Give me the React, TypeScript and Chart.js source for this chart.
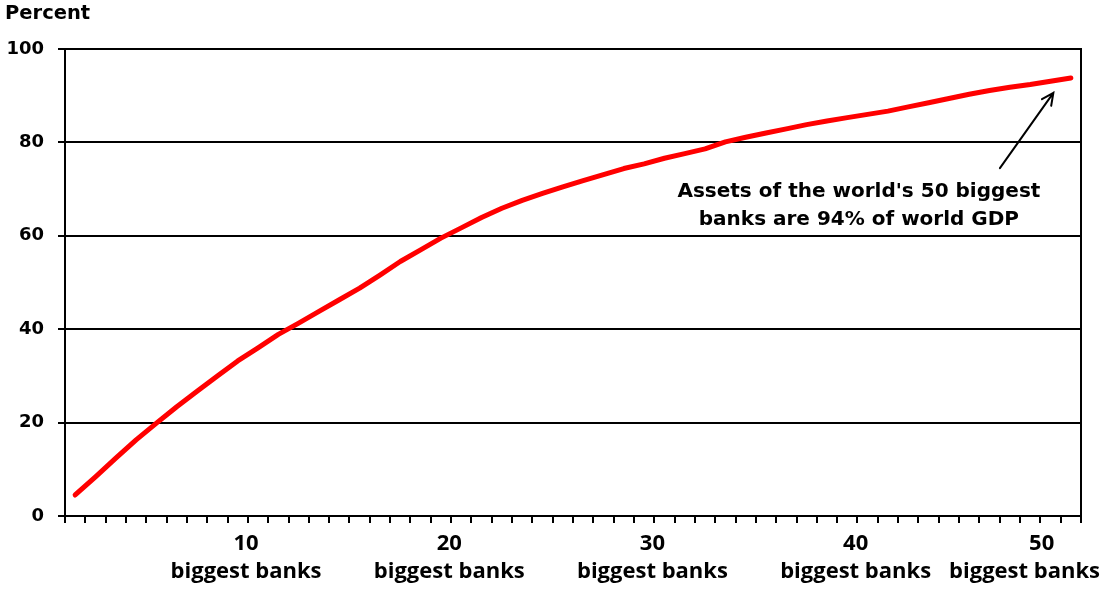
import React, { useEffect, useRef } from 'react';
import { Chart, registerables } from 'chart.js';

Chart.register(...registerables);

// Categories: number of biggest banks counted (1..50)
const banks = [
  '1', '2', '3', '4', '5', '6', '7', '8', '9', '10',
  '11', '12', '13', '14', '15', '16', '17', '18', '19', '20',
  '21', '22', '23', '24', '25', '26', '27', '28', '29', '30',
  '31', '32', '33', '34', '35', '36', '37', '38', '39', '40',
  '41', '42', '43', '44', '45', '46', '47', '48', '49', '50',
];

// Cumulative assets of the N biggest banks, percent of world GDP
const assetsPctGdp = [
  4.5, 8.4, 12.4, 16.3, 19.9, 23.4, 26.7, 30.0, 33.2, 36.0,
  38.9, 41.3, 43.8, 46.3, 48.8, 51.6, 54.5, 57.0, 59.5, 61.7,
  63.9, 65.9, 67.6, 69.1, 70.5, 71.8, 73.1, 74.4, 75.4, 76.6,
  77.6, 78.6, 80.1, 81.1, 82.0, 82.9, 83.8, 84.6, 85.3, 86.0,
  86.7, 87.6, 88.5, 89.4, 90.3, 91.1, 91.8, 92.4, 93.1, 93.8,
];

const xTickNumbers = ['10', '20', '30', '40', '50'];
const xTickCaption = 'biggest banks';
const yTicks = [0, 20, 40, 60, 80, 100];
const yTitle = 'Percent';
const noteLines = ["Assets of the world's 50 biggest", 'banks are 94% of world GDP'];

const notePlugin = {
  id: 'note',
  afterDatasetsDraw(chart: any) {
    const { ctx, scales } = chart;
    const x = scales.x;
    const y = scales.y;
    ctx.save();
    ctx.fillStyle = '#000';
    ctx.font = 'bold 20px "DejaVu Sans"';
    ctx.textAlign = 'center';
    ctx.textBaseline = 'middle';
    const tx = x.getPixelForValue(38.57);
    ctx.fillText(noteLines[0], tx, y.getPixelForValue(69.4));
    ctx.fillText(noteLines[1], tx, y.getPixelForValue(63.4));

    const x0 = x.getPixelForValue(45.51);
    const y0 = y.getPixelForValue(74.5);
    const x1 = x.getPixelForValue(48.14);
    const y1 = y.getPixelForValue(90.6);
    ctx.strokeStyle = '#000';
    ctx.lineWidth = 2;
    ctx.lineCap = 'round';
    ctx.beginPath();
    ctx.moveTo(x0, y0);
    ctx.lineTo(x1, y1);
    const ang = Math.atan2(y1 - y0, x1 - x0);
    const head = 13;
    ctx.moveTo(x1 - head * Math.cos(ang - 0.45), y1 - head * Math.sin(ang - 0.45));
    ctx.lineTo(x1, y1);
    ctx.lineTo(x1 - head * Math.cos(ang + 0.45), y1 - head * Math.sin(ang + 0.45));
    ctx.stroke();
    ctx.restore();
  },
};

export default function App() {
  const ref = useRef<HTMLCanvasElement | null>(null);

  useEffect(() => {
    if (!ref.current) return;
    const chart = new Chart(ref.current, {
      type: 'line',
      data: {
        labels: banks,
        datasets: [
          {
            data: assetsPctGdp,
            borderColor: '#FF0000',
            borderWidth: 5,
            borderCapStyle: 'round',
            borderJoinStyle: 'round',
            pointRadius: 0,
            tension: 0,
            fill: false,
          },
        ],
      },
      options: {
        responsive: false,
        animation: false,
        layout: { padding: { left: 5, right: 21, top: 0, bottom: 0 } },
        plugins: {
          legend: { display: false },
          tooltip: { enabled: false },
          title: {
            display: true,
            text: yTitle,
            align: 'start',
            color: '#000',
            font: { family: '"DejaVu Sans"', size: 19.5, weight: 'bold', lineHeight: 1.2 },
            padding: { top: 2, bottom: 23.6 },
          },
        },
        scales: {
          x: {
            type: 'category',
            offset: true,
            border: { display: true, color: '#000', width: 2 },
            grid: {
              display: true,
              offset: true,
              drawOnChartArea: false,
              drawTicks: true,
              tickLength: 7,
              color: '#000',
              lineWidth: 2,
            },
            ticks: {
              autoSkip: false,
              maxRotation: 0,
              minRotation: 0,
              padding: 7,
              labelOffset: -12,
              color: '#000',
              font: { family: '"Open Sans"', size: 22, weight: 'bold', lineHeight: 1.27 },
              callback: (_v: any, index: number) => {
                const n = banks[index];
                const k = xTickNumbers.indexOf(n);
                if (k < 0) return '';
                if (k === xTickNumbers.length - 1) {
                  return [n + '      ', xTickCaption + '            '];
                }
                return [n, xTickCaption];
              },
            },
            afterFit: (scale: any) => {
              scale.height = 77;
              scale.paddingLeft = 0;
              scale.paddingRight = 0;
            },
          },
          y: {
            min: 0,
            max: 100,
            border: { display: true, color: '#000', width: 2 },
            grid: {
              color: '#000',
              lineWidth: 2,
              drawTicks: true,
              tickLength: 7,
            },
            afterBuildTicks: (scale: any) => {
              scale.ticks = yTicks.map((v) => ({ value: v }));
            },
            ticks: {
              padding: 14,
              color: '#000',
              font: { family: '"DejaVu Sans"', size: 18, weight: 'bold' },
            },
            afterFit: (scale: any) => {
              scale.width = 60;
              scale.paddingTop = 0;
              scale.paddingBottom = 0;
            },
          },
          y2: {
            position: 'right',
            min: 0,
            max: 100,
            border: { display: true, color: '#000', width: 2 },
            grid: { drawOnChartArea: false, drawTicks: false },
            ticks: { display: false },
            afterFit: (scale: any) => {
              scale.width = 0;
              scale.paddingTop = 0;
              scale.paddingBottom = 0;
            },
          },
        },
      },
      plugins: [notePlugin],
    } as any);
    return () => chart.destroy();
  }, []);

  return (
    <div style={{ position: 'absolute', left: 0, top: 0, width: 1102, height: 593, background: '#fff' }}>
      <canvas ref={ref} width={1102} height={593} style={{ display: 'block' }} />
    </div>
  );
}
